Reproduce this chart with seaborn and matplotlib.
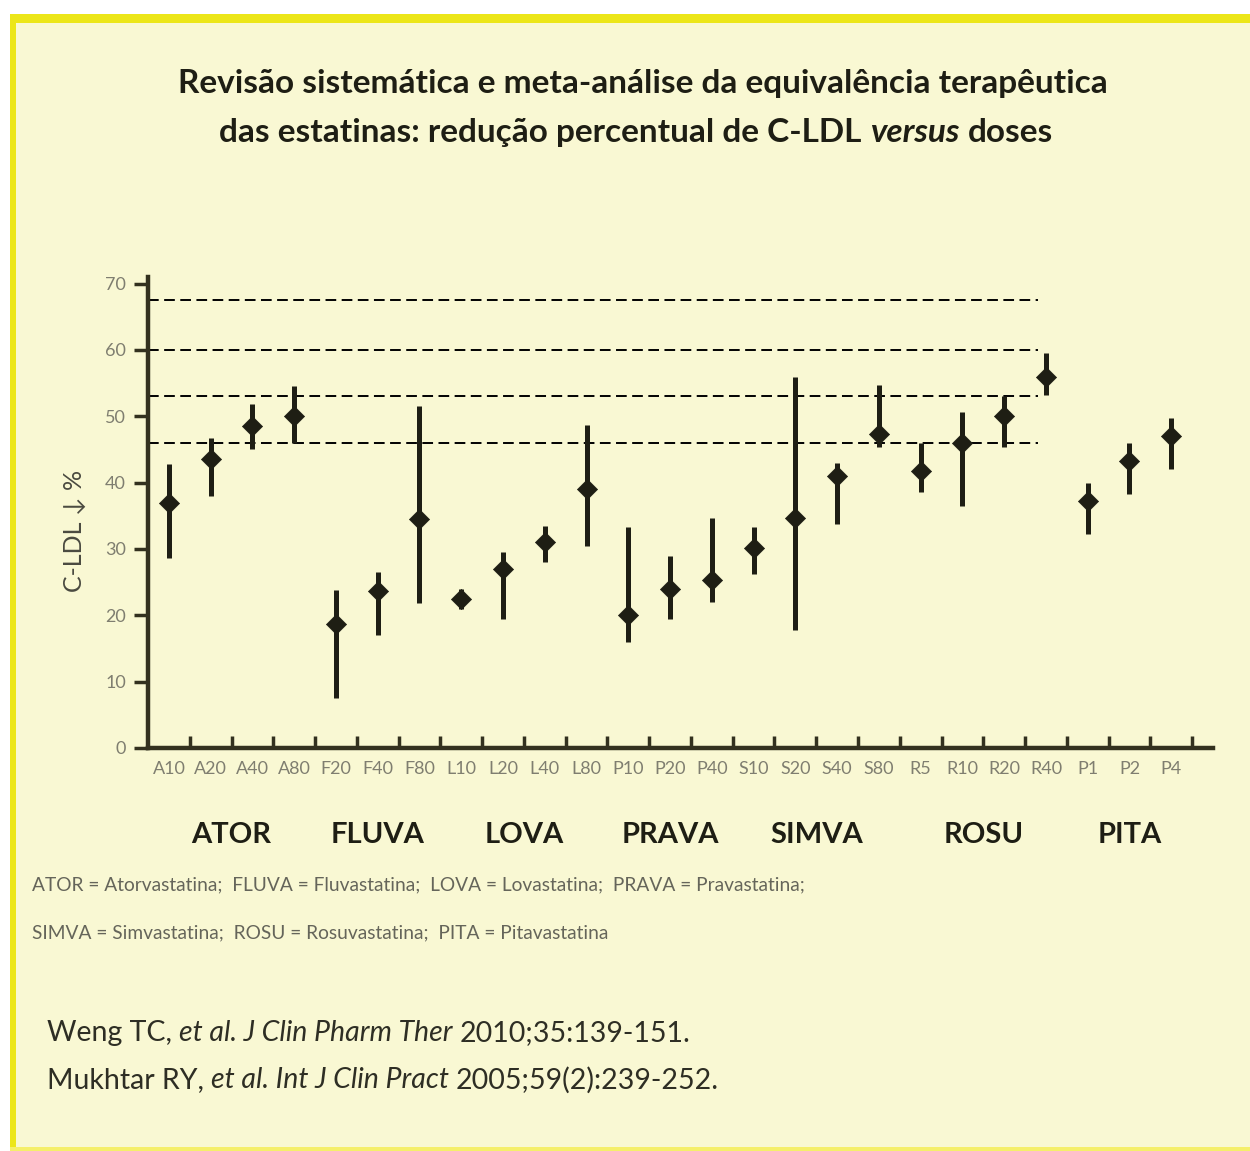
import matplotlib
matplotlib.use("Agg")
import matplotlib.pyplot as plt
import matplotlib.transforms as mtransforms
from matplotlib.patches import Rectangle
from matplotlib.offsetbox import TextArea, HPacker, AnnotationBbox
import seaborn as sns
import pandas as pd
import numpy as np

# ---------------- data ----------------
doses = ["A10", "A20", "A40", "A80", "F20", "F40", "F80", "L10", "L20", "L40", "L80",
         "P10", "P20", "P40", "S10", "S20", "S40", "S80", "R5", "R10", "R20", "R40",
         "P1", "P2", "P4"]
ldl_mean = [37.0, 43.5, 48.5, 50.0, 18.7, 23.7, 34.5, 22.5, 27.0, 31.0, 39.0,
            20.0, 24.0, 25.3, 30.2, 34.6, 41.0, 47.3, 41.8, 46.0, 50.0, 56.0,
            37.2, 43.2, 47.0]
ldl_low = [28.6, 38.0, 45.0, 46.0, 7.5, 17.0, 21.8, 21.0, 19.5, 28.0, 30.5,
           16.0, 19.5, 22.0, 26.2, 17.8, 33.8, 45.3, 38.6, 36.5, 45.4, 53.2,
           32.3, 38.3, 42.0]
ldl_high = [42.8, 46.8, 51.8, 54.5, 23.8, 26.5, 51.5, 24.0, 29.5, 33.5, 48.7,
            33.3, 29.0, 34.7, 33.3, 56.0, 43.0, 54.7, 46.0, 50.6, 53.0, 59.5,
            40.0, 46.0, 49.8]
dose_group = ["ATOR"] * 4 + ["FLUVA"] * 3 + ["LOVA"] * 4 + ["PRAVA"] * 3 + \
             ["SIMVA"] * 4 + ["ROSU"] * 4 + ["PITA"] * 3
groups = ["ATOR", "FLUVA", "LOVA", "PRAVA", "SIMVA", "ROSU", "PITA"]
ref_levels = [67.5, 60, 53, 46]
y_ticks = [0, 10, 20, 30, 40, 50, 60, 70]

title_line1 = "Revisão sistemática e meta-análise da equivalência terapêutica"
title_line2 = ["das estatinas: redução percentual de C-LDL", "versus", "doses"]
y_label = "C-LDL ↓ %"
foot1 = "ATOR = Atorvastatina;  FLUVA = Fluvastatina;  LOVA = Lovastatina;  PRAVA = Pravastatina;"
foot2 = "SIMVA = Simvastatina;  ROSU = Rosuvastatina;  PITA = Pitavastatina"
ref1 = [("Weng TC,", "normal"), ("et al. J Clin Pharm Ther", "italic"), ("2010;35:139-151.", "normal")]
ref2 = [("Mukhtar RY,", "normal"), ("et al. Int J Clin Pract", "italic"), ("2005;59(2):239-252.", "normal")]

df = pd.DataFrame({"dose": doses, "pos": np.arange(len(doses)), "mean": ldl_mean,
                   "low": ldl_low, "high": ldl_high, "group": dose_group})

# ---------------- style ----------------
sns.set_theme(style="ticks")
plt.rcParams["font.family"] = ["Lato", "DejaVu Sans"]
FONT = ["Lato", "DejaVu Sans"]

BG = "#f9f8d3"
YEL = "#ece619"
AX_C = "#33311f"
INK = "#1e1e14"
GRAY = "#7f7e70"

W, H = 1250, 1151
fig = plt.figure(figsize=(W / 100, H / 100), dpi=100)
fig.patch.set_facecolor("white")

def fx(px):
    return px / W

def fy(py):
    return 1 - py / H

# background panel + yellow border
fig.patches.append(Rectangle((fx(10), fy(1150)), fx(1240), (1150 - 15) / H,
                             transform=fig.transFigure, facecolor=BG, edgecolor="none", zorder=-5))
fig.patches.append(Rectangle((fx(10), fy(23)), fx(1240), 9 / H,
                             transform=fig.transFigure, facecolor=YEL, edgecolor="none", zorder=-4))
fig.patches.append(Rectangle((fx(10), fy(1150)), 6 / W, (1150 - 15) / H,
                             transform=fig.transFigure, facecolor=YEL, edgecolor="none", zorder=-4))
fig.patches.append(Rectangle((fx(10), fy(1151)), fx(1240), 4 / H,
                             transform=fig.transFigure, facecolor="#f5ef6a", edgecolor="none", zorder=-4))

# ---------------- axes ----------------
ax = fig.add_axes([fx(148), fy(748), fx(1213 - 148), (748 - 277) / H])
ax.patch.set_alpha(0)
ax.set_xlim(-0.5, len(doses))
ax.set_ylim(0, 71)

ax.hlines(ref_levels, -0.5, 20.8, colors="black", linewidth=1.4,
          linestyles=(0, (5.5, 2.8)), zorder=2)

ax.vlines(df["pos"], df["low"], df["high"], colors=INK, linewidth=3.6, zorder=3)
sns.scatterplot(data=df, x="pos", y="mean", marker="D", s=105, color=INK,
                edgecolor=INK, linewidth=0.5, ax=ax, zorder=4, legend=False)

for side in ["top", "right"]:
    ax.spines[side].set_visible(False)
for side in ["left", "bottom"]:
    ax.spines[side].set_color(AX_C)
    ax.spines[side].set_linewidth(3.2)

ax.set_yticks(y_ticks)
ax.set_yticklabels([str(v) for v in y_ticks], family=FONT, fontsize=13, color=GRAY)
ax.tick_params(axis="y", direction="out", length=10, width=2.5, color=AX_C, pad=6)

ax.set_xticks(np.arange(len(doses)) + 0.5)
ax.set_xticklabels([])
ax.tick_params(axis="x", which="major", direction="in", length=9, width=2.5, color=AX_C)
ax.set_xticks(np.arange(len(doses)), minor=True)
ax.set_xticklabels(doses, minor=True, family=FONT, fontsize=13, color=GRAY)
ax.tick_params(axis="x", which="minor", length=0, pad=9)
ax.set_xlabel("")
ax.set_ylabel("")

# group labels
blend = mtransforms.blended_transform_factory(ax.transData, fig.transFigure)
for g in groups:
    members = df.loc[df["group"] == g, "pos"]
    ax.text(members.mean(), fy(835), g, transform=blend, ha="center", va="center",
            family=FONT, fontweight="bold", fontsize=21, color=INK)

# y label
fig.text(fx(75), fy(531), y_label, rotation=90, ha="center", va="center",
         fontsize=18, color="#4a4a40", family=FONT)

# title
fig.text(fx(643), fy(84), title_line1, ha="center", va="center",
         fontsize=24, fontweight="bold", color=INK)
t_parts = [TextArea(title_line2[0], textprops=dict(fontsize=24, fontweight="bold", color=INK)),
           TextArea(title_line2[1], textprops=dict(fontsize=24, fontweight="bold", style="italic", color=INK)),
           TextArea(title_line2[2], textprops=dict(fontsize=24, fontweight="bold", color=INK))]
t_box = HPacker(children=t_parts, pad=0, sep=6, align="baseline")
fig.add_artist(AnnotationBbox(t_box, (fx(636), fy(132)), xycoords="figure fraction",
                              box_alignment=(0.5, 0.5), frameon=False, pad=0))

# footnotes
fig.text(fx(32), fy(885), foot1, ha="left", va="center", family=FONT, fontsize=13.8, color="#65655a")
fig.text(fx(32), fy(933), foot2, ha="left", va="center", family=FONT, fontsize=13.8, color="#65655a")

# references
for ref, ypix in [(ref1, 1033), (ref2, 1080)]:
    parts = [TextArea(s, textprops=dict(fontsize=20.5, style=st, color="#2e2e24")) for s, st in ref]
    box = HPacker(children=parts, pad=0, sep=5, align="baseline")
    fig.add_artist(AnnotationBbox(box, (fx(47), fy(ypix)), xycoords="figure fraction",
                                  box_alignment=(0, 0.5), frameon=False, pad=0))

fig.savefig("out.png", dpi=100, facecolor=fig.get_facecolor())
